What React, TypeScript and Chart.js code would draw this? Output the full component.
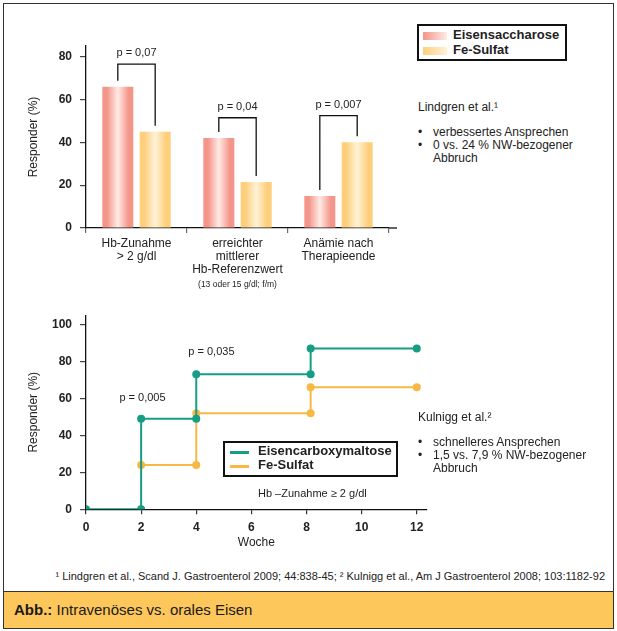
import React, { useEffect, useRef } from "react";
import { Chart, registerables } from "chart.js";

Chart.register(...registerables);

// ---------- data: top bar chart (Lindgren) ----------
const barCategories = [
  ["Hb-Zunahme", "> 2 g/dl"],
  ["erreichter", "mittlerer", "Hb-Referenzwert"],
  ["Anämie nach", "Therapieende"],
];
const barSubNotes = ["", "(13 oder 15 g/dl; f/m)", ""];
const eisensaccharose = [66, 42, 15];
const feSulfatBars = [45, 21.5, 40];
const bracketTops = [76.5, 51.5, 52.5];
const barPValues = ["p = 0,07", "p = 0,04", "p = 0,007"];
const barYTicks = [0, 20, 40, 60, 80];

// ---------- data: bottom step chart (Kulnigg) ----------
const fcmWeeks = [0, 2, 2, 4, 4, 8.15, 8.15, 12];
const fcmValues = [0, 0, 49, 49, 73, 73, 87, 87];
const feSWeeks = [2, 4, 4, 8.15, 8.15, 12];
const feSValues = [24, 24, 52, 52, 66, 66];
const weekTicks = [0, 2, 4, 6, 8, 10, 12];
const lineYTicks = [0, 20, 40, 60, 80, 100];
const lineNoteX = [2.05, 4.55];
const lineNoteY = [60, 85];
const lineNoteText = ["p = 0,005", "p = 0,035"];

const FONT = "'Liberation Sans', Arial, Helvetica, sans-serif";
const TXT = "#222";
const RED_EDGE = "#f4958a";
const RED_LIGHT = "#ffebe5";
const YEL_EDGE = "#fdcf7b";
const YEL_LIGHT = "#fff2d8";
const TEAL = "#169e84";
const ORANGE = "#f8b845";
const CAT_PCT = 0.74;
const BAR_PCT = 0.83;

function barGradient(edge: string, light: string) {
  return (c: any) => {
    const chart = c.chart;
    const xs = chart.scales && chart.scales.x;
    if (c.type !== "data" || !xs || !xs.width) return edge;
    const catW = xs.width / barCategories.length;
    const slot = (catW * CAT_PCT) / 2;
    const cx = xs.getPixelForValue(c.dataIndex) + (c.datasetIndex === 0 ? -slot / 2 : slot / 2);
    const half = (slot * BAR_PCT) / 2;
    const g = chart.ctx.createLinearGradient(cx - half, 0, cx + half, 0);
    g.addColorStop(0, edge);
    g.addColorStop(0.15, edge);
    g.addColorStop(0.5, light);
    g.addColorStop(0.85, edge);
    g.addColorStop(1, edge);
    return g;
  };
}

const bracketPlugin = {
  id: "brackets",
  afterDatasetsDraw(chart: any) {
    const ctx = chart.ctx;
    const ys = chart.scales.y;
    const m0 = chart.getDatasetMeta(0);
    const m1 = chart.getDatasetMeta(1);
    ctx.save();
    ctx.strokeStyle = "#111";
    ctx.lineWidth = 1.3;
    for (let i = 0; i < barCategories.length; i++) {
      const x0 = m0.data[i].x;
      const x1 = m1.data[i].x;
      const yt = ys.getPixelForValue(bracketTops[i]);
      const y0 = ys.getPixelForValue(eisensaccharose[i]) - 6;
      const y1 = ys.getPixelForValue(feSulfatBars[i]) - 6;
      ctx.beginPath();
      ctx.moveTo(x0, y0);
      ctx.lineTo(x0, yt);
      ctx.lineTo(x1, yt);
      ctx.lineTo(x1, y1);
      ctx.stroke();
      ctx.fillStyle = TXT;
      ctx.font = `11px ${FONT}`;
      ctx.textAlign = "center";
      ctx.textBaseline = "middle";
      ctx.fillText(barPValues[i], (x0 + x1) / 2, yt - 11);
    }
    // sub notes under category labels
    const xs = chart.scales.x;
    ctx.font = `8.5px ${FONT}`;
    ctx.fillStyle = TXT;
    barSubNotes.forEach((t, i) => {
      if (t) ctx.fillText(t, xs.getPixelForValue(i), chart.chartArea.bottom + 57);
    });
    // axis line extension
    ctx.beginPath();
    ctx.strokeStyle = "#111";
    ctx.moveTo(chart.chartArea.right, chart.chartArea.bottom);
    ctx.lineTo(chart.chartArea.right + 8, chart.chartArea.bottom);
    ctx.stroke();
    ctx.restore();
  },
};

const lineNotesPlugin = {
  id: "lineNotes",
  afterDatasetsDraw(chart: any) {
    const ctx = chart.ctx;
    const xs = chart.scales.x;
    const ys = chart.scales.y;
    ctx.save();
    ctx.fillStyle = TXT;
    ctx.font = `11px ${FONT}`;
    ctx.textAlign = "center";
    ctx.textBaseline = "middle";
    lineNoteText.forEach((t, i) => {
      ctx.fillText(t, xs.getPixelForValue(lineNoteX[i]), ys.getPixelForValue(lineNoteY[i]));
    });
    ctx.restore();
  },
};

function BarChart() {
  const ref = useRef<HTMLCanvasElement>(null);
  useEffect(() => {
    if (!ref.current) return;
    const chart = new Chart(ref.current, {
      type: "bar",
      data: {
        labels: barCategories as any,
        datasets: [
          {
            label: "Eisensaccharose",
            data: eisensaccharose,
            backgroundColor: barGradient(RED_EDGE, RED_LIGHT) as any,
            borderWidth: 0,
            categoryPercentage: CAT_PCT,
            barPercentage: BAR_PCT,
          },
          {
            label: "Fe-Sulfat",
            data: feSulfatBars,
            backgroundColor: barGradient(YEL_EDGE, YEL_LIGHT) as any,
            borderWidth: 0,
            categoryPercentage: CAT_PCT,
            barPercentage: BAR_PCT,
          },
        ],
      },
      options: {
        animation: false,
        responsive: true,
        maintainAspectRatio: false,
        layout: { padding: { top: 46, right: 21, left: 0, bottom: 0 } },
        plugins: { legend: { display: false }, tooltip: { enabled: false } },
        scales: {
          x: {
            afterFit: (s: any) => {
              s.height = 72;
            },
            grid: { display: true, drawOnChartArea: false, offset: true, tickLength: 5, color: "#5a7080", lineWidth: 1.2 },
            border: { display: true, color: "#111", width: 1.3 },
            ticks: { color: TXT, padding: 4, font: { family: FONT, size: 12, lineHeight: 1.1 } },
          },
          y: {
            min: 0,
            max: 85,
            afterFit: (s: any) => {
              s.width = 86;
            },
            afterBuildTicks: (s: any) => {
              s.ticks = barYTicks.map((v) => ({ value: v }));
            },
            grid: { display: true, drawOnChartArea: false, tickLength: 6, color: "#444", lineWidth: 1.2 },
            border: { display: true, color: "#111", width: 1.3 },
            ticks: { color: TXT, padding: 8, font: { family: FONT, size: 12, weight: "bold" } },
            title: {
              display: true,
              text: "Responder (%)",
              color: TXT,
              font: { family: FONT, size: 12 },
              padding: { top: 26, bottom: 0 },
            },
          },
        },
      },
      plugins: [bracketPlugin],
    });
    return () => chart.destroy();
  }, []);
  return (
    <div style={{ position: "absolute", left: 0, top: 0, width: 410, height: 300 }}>
      <canvas ref={ref} />
    </div>
  );
}

function LineChart() {
  const ref = useRef<HTMLCanvasElement>(null);
  useEffect(() => {
    if (!ref.current) return;
    const chart = new Chart(ref.current, {
      type: "line",
      data: {
        datasets: [
          {
            label: "Eisencarboxymaltose",
            data: fcmWeeks.map((x, i) => ({ x, y: fcmValues[i] })),
            borderColor: TEAL,
            backgroundColor: TEAL,
            pointBackgroundColor: TEAL,
            pointBorderWidth: 0,
            pointRadius: 4,
            borderWidth: 2,
            tension: 0,
          },
          {
            label: "Fe-Sulfat",
            data: feSWeeks.map((x, i) => ({ x, y: feSValues[i] })),
            borderColor: ORANGE,
            backgroundColor: ORANGE,
            pointBackgroundColor: ORANGE,
            pointBorderWidth: 0,
            pointRadius: 4,
            borderWidth: 2,
            tension: 0,
          },
        ],
      },
      options: {
        animation: false,
        responsive: true,
        maintainAspectRatio: false,
        layout: { padding: { top: 12, right: 13.3, left: 0, bottom: 0 } },
        plugins: { legend: { display: false }, tooltip: { enabled: false } },
        scales: {
          x: {
            type: "linear",
            min: 0,
            max: 12.36,
            afterFit: (s: any) => {
              s.height = 52.7;
            },
            afterBuildTicks: (s: any) => {
              s.ticks = weekTicks.map((v) => ({ value: v }));
            },
            grid: { display: true, drawOnChartArea: false, tickLength: 5, color: "#333", lineWidth: 1.2 },
            border: { display: true, color: "#111", width: 1.3 },
            ticks: { color: TXT, padding: 6, font: { family: FONT, size: 12, weight: "bold" } },
            title: {
              display: true,
              text: "Woche",
              color: TXT,
              font: { family: FONT, size: 12 },
              padding: { top: 0, bottom: 12 },
            },
          },
          y: {
            min: 0,
            max: 105,
            afterFit: (s: any) => {
              s.width = 86;
            },
            afterBuildTicks: (s: any) => {
              s.ticks = lineYTicks.map((v) => ({ value: v }));
            },
            grid: { display: true, drawOnChartArea: false, tickLength: 6, color: "#444", lineWidth: 1.2 },
            border: { display: true, color: "#111", width: 1.3 },
            ticks: { color: TXT, padding: 8, font: { family: FONT, size: 12, weight: "bold" } },
            title: {
              display: true,
              text: "Responder (%)",
              color: TXT,
              font: { family: FONT, size: 12 },
              padding: { top: 26, bottom: 0 },
            },
          },
        },
      },
      plugins: [lineNotesPlugin],
    });
    return () => chart.destroy();
  }, []);
  return (
    <div style={{ position: "absolute", left: 0, top: 300, width: 440, height: 262 }}>
      <canvas ref={ref} />
    </div>
  );
}

const abs = (l: number, t: number, extra: React.CSSProperties = {}): React.CSSProperties => ({
  position: "absolute",
  left: l,
  top: t,
  ...extra,
});

function Bullets({ items, left, top }: { items: string[][]; left: number; top: number }) {
  return (
    <div style={abs(left, top, { fontSize: 12, lineHeight: "13px", color: TXT })}>
      {items.map((lines, i) => (
        <div key={i} style={{ display: "flex" }}>
          <div style={{ width: 15 }}>•</div>
          <div>
            {lines.map((l, j) => (
              <div key={j} style={{ whiteSpace: "nowrap" }}>
                {l}
              </div>
            ))}
          </div>
        </div>
      ))}
    </div>
  );
}

export default function App() {
  return (
    <div
      style={{
        position: "absolute",
        left: 0,
        top: 0,
        width: 617,
        height: 631,
        fontFamily: FONT,
        background: "#fff",
        overflow: "hidden",
      }}
    >
      <div style={abs(3, 3, { width: 609, height: 624, border: "1px solid #333" })} />
      <BarChart />
      <LineChart />

      {/* top legend */}
      <div
        style={abs(417, 24, {
          width: 146,
          height: 33,
          border: "2px solid #111",
          fontSize: 13,
          fontWeight: "bold",
          color: TXT,
        })}
      >
        <div style={abs(4, 6, { width: 24, height: 8, background: `linear-gradient(to right, ${RED_EDGE}, ${RED_LIGHT})` })} />
        <div style={abs(34, 1, { lineHeight: "15px", whiteSpace: "nowrap" })}>Eisensaccharose</div>
        <div style={abs(4, 21, { width: 24, height: 8, background: `linear-gradient(to right, ${YEL_EDGE}, ${YEL_LIGHT})` })} />
        <div style={abs(34, 16, { lineHeight: "15px", whiteSpace: "nowrap" })}>Fe-Sulfat</div>
      </div>

      <div style={abs(418, 100, { fontSize: 12, lineHeight: "14px", color: TXT })}>Lindgren et al.¹</div>
      <Bullets left={418} top={126} items={[["verbessertes Ansprechen"], ["0 vs. 24 % NW-bezogener", "Abbruch"]]} />

      {/* bottom legend */}
      <div
        style={abs(223, 441, {
          width: 171,
          height: 32,
          border: "2px solid #111",
          fontSize: 13,
          fontWeight: "bold",
          color: TXT,
          background: "#fff",
        })}
      >
        <div style={abs(5, 8, { width: 19, height: 2.5, background: TEAL })} />
        <div style={abs(33, 1, { lineHeight: "14px", whiteSpace: "nowrap" })}>Eisencarboxymaltose</div>
        <div style={abs(5, 22, { width: 19, height: 2.5, background: ORANGE })} />
        <div style={abs(33, 15, { lineHeight: "14px", whiteSpace: "nowrap" })}>Fe-Sulfat</div>
      </div>
      <div style={abs(258, 486, { fontSize: 11, lineHeight: "14px", color: TXT, whiteSpace: "nowrap" })}>
        Hb –Zunahme ≥ 2 g/dl
      </div>

      <div style={abs(418, 410, { fontSize: 12, lineHeight: "14px", color: TXT })}>Kulnigg et al.²</div>
      <Bullets left={418} top={436} items={[["schnelleres Ansprechen"], ["1,5 vs. 7,9 % NW-bezogener", "Abbruch"]]} />

      {/* footnote */}
      <div style={abs(0, 570, { width: 605, textAlign: "right", fontSize: 11, lineHeight: "13px", color: TXT, whiteSpace: "nowrap" })}>
        ¹ Lindgren et al., Scand J. Gastroenterol 2009; 44:838-45; ² Kulnigg et al., Am J Gastroenterol 2008; 103:1182-92
      </div>

      {/* caption band */}
      <div
        style={abs(3, 591, {
          width: 609,
          height: 36,
          background: "#fdc75b",
          border: "1px solid #333",
        })}
      >
        <div style={abs(10, 9, { fontSize: 15, lineHeight: "18px", color: "#1a1a1a", whiteSpace: "nowrap" })}>
          <b>Abb.:</b> Intravenöses vs. orales Eisen
        </div>
      </div>
    </div>
  );
}
